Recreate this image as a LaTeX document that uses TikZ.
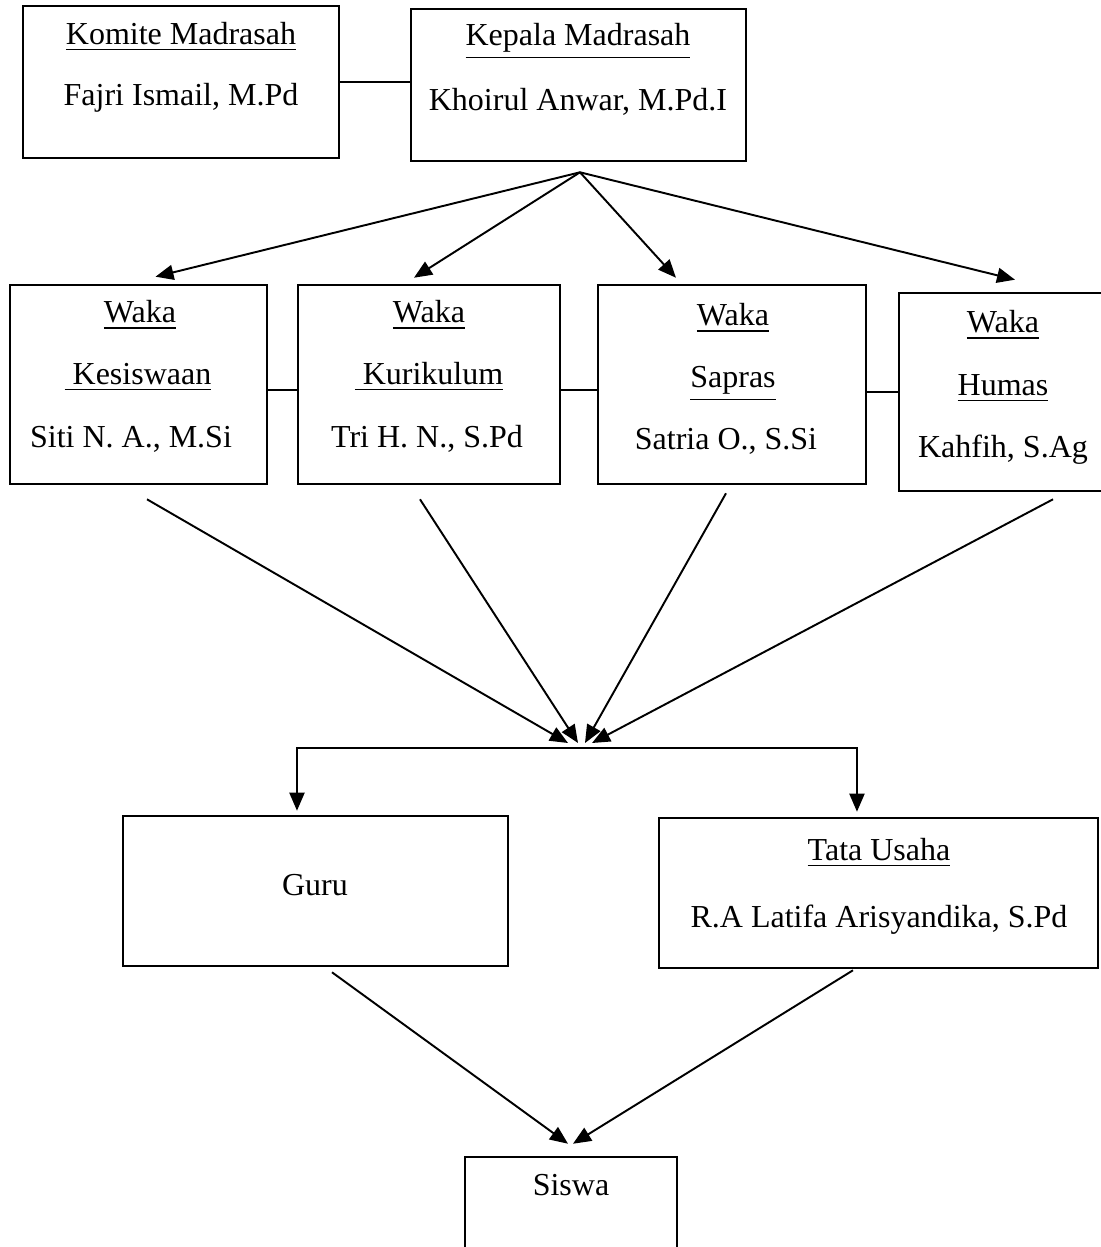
\documentclass[tikz,border=0pt]{standalone}
\usepackage{fontspec}
\setmainfont{Liberation Serif}
\usetikzlibrary{arrows.meta, positioning}

\begin{document}
\begin{tikzpicture}
  [x=0.01cm, y=-0.01cm,
   box/.style={rectangle,draw=black,line width=0.7pt,inner sep=0pt},
   txt/.style={font=\fontsize{9.1}{11}\selectfont,inner sep=0pt,text height=0.22cm,text depth=0.07cm},
   line/.style={draw=black,line width=0.55pt},
   arr/.style={line,-{Triangle[length=0.18cm,width=0.15cm]}}]

  \useasboundingbox (0,0) rectangle (1101,1247);
  \clip (0,0) rectangle (1101,1247);

  % boxes
  \node[box,minimum width=3.16cm,minimum height=1.52cm](komite) at (181,82) {};
  \node[box,minimum width=3.35cm,minimum height=1.52cm](kepala) at (578.5,85) {};
  \node[box,minimum width=2.57cm,minimum height=1.99cm](kes) at (138.5,384.5) {};
  \node[box,minimum width=2.62cm,minimum height=1.99cm](kur) at (429,384.5) {};
  \node[box,minimum width=2.68cm,minimum height=1.99cm](sap) at (732,384.5) {};
  \node[box,minimum width=2.09cm,minimum height=1.98cm](hum) at (1003.5,392) {};
  \node[box,minimum width=3.85cm,minimum height=1.50cm](guru) at (315.5,891) {};
  \node[box,minimum width=4.39cm,minimum height=1.50cm](tu) at (878.5,893) {};
  \node[box,minimum width=2.12cm,minimum height=1.33cm](siswa) at (571,1223.5) {};

  % texts
  \node[txt](komiteA) at (181,37) {\underline{Komite Madrasah}};
  \node[txt](komiteB) at (181,98) {Fajri Ismail, M.Pd};
  \node[txt](kepalaA) at (578,38) {\underline{Kepala Madrasah}};
  \node[txt](kepalaB) at (578,103) {Khoirul Anwar, M.Pd.I};
  \node[txt](kesA) at (140,315) {\underline{Waka}};
  \node[txt](kesB) at (138,377) {\underline{\ Kesiswaan}};
  \node[txt](kesC) at (131,440) {Siti N. A., M.Si};
  \node[txt](kurA) at (429,315) {\underline{Waka}};
  \node[txt](kurB) at (429,377) {\underline{\ Kurikulum}};
  \node[txt](kurC) at (427,440) {Tri H. N., S.Pd};
  \node[txt](sapA) at (733,318) {\underline{Waka}};
  \node[txt](sapB) at (733,380) {\underline{Sapras}};
  \node[txt](sapC) at (726,442) {Satria O., S.Si};
  \node[txt](humA) at (1003,325) {\underline{Waka}};
  \node[txt](humB) at (1003,388) {\underline{Humas}};
  \node[txt](humC) at (1003,450) {Kahfih, S.Ag};
  \node[txt](guruA) at (315,888) {Guru};
  \node[txt](tuA) at (879,853) {\underline{Tata Usaha}};
  \node[txt](tuB) at (879,920) {R.A Latifa Arisyandika, S.Pd};
  \node[txt](siswaA) at (571,1188) {Siswa};

  % connectors
  \draw[line] (komite.east) -- (komite.east -| kepala.west);
  \draw[line] ([yshift=-0.055cm]kes.east) -- ([yshift=-0.055cm]kur.west);
  \draw[line] ([yshift=-0.055cm]kur.east) -- ([yshift=-0.055cm]sap.west);
  \draw[line] (sap.east |- hum.west) -- (hum.west);

  \coordinate (top) at ([xshift=0.015cm,yshift=-0.1cm]kepala.south);
  \draw[arr] (top) -- ([xshift=0.17cm,yshift=0.07cm]kes.north);
  \draw[arr] (top) -- ([xshift=-0.15cm,yshift=0.06cm]kur.north);
  \draw[arr] (top) -- ([xshift=-0.56cm,yshift=0.06cm]sap.north);
  \draw[arr] (top) -- ([xshift=0.115cm,yshift=0.12cm]hum.north);

  \coordinate (hub) at (580,743);
  \draw[arr] ([xshift=0.085cm,yshift=-0.14cm]kes.south) -- ([xshift=-0.12cm]hub);
  \draw[arr] ([xshift=-0.09cm,yshift=-0.14cm]kur.south) -- ([xshift=-0.02cm]hub);
  \draw[arr] ([xshift=-0.06cm,yshift=-0.08cm]sap.south) -- ([xshift=0.05cm]hub);
  \draw[arr] ([xshift=0.495cm,yshift=-0.07cm]hum.south) -- ([xshift=0.12cm]hub);

  \coordinate (bus) at (577,748);
  \draw[arr] (bus) -| ([xshift=-0.185cm,yshift=0.04cm]guru.north);
  \draw[arr] (bus) -| ([xshift=-0.215cm,yshift=0.05cm]tu.north);

  \draw[arr] ([xshift=0.165cm,yshift=-0.05cm]guru.south) -- ([xshift=-0.03cm,yshift=0.12cm]siswa.north);
  \draw[arr] ([xshift=-0.255cm,yshift=-0.01cm]tu.south) -- ([xshift=0.02cm,yshift=0.12cm]siswa.north);
\end{tikzpicture}
\end{document}
